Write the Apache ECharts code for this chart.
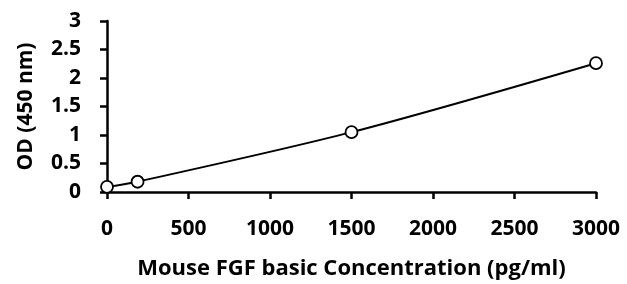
<!DOCTYPE html>
<html>
<head>
<meta charset="utf-8">
<script src="https://cdn.jsdelivr.net/npm/echarts@6/dist/echarts.min.js"></script>
<style>
	html, body { margin: 0; padding: 0; background: #fff; }
	#main { width: 627px; height: 284px; }
</style>
</head>
<body>
<div id="main"></div>
<script>
	// 数据
	var concentration = [0, 187.5, 1500, 3000];
	var od = [0.09, 0.18, 1.05, 2.26];
	var xTicks = [0, 500, 1000, 1500, 2000, 2500, 3000];
	var yTicks = [0, 0.5, 1, 1.5, 2, 2.5, 3];

	var points = concentration.map(function (c, i) { return [c, od[i]]; });

	var myChart = echarts.init(document.getElementById('main'));

	var font = '"Open Sans", sans-serif';

	var option = {
		backgroundColor: '#fff',
		animation: false,
		grid: {
			left: 107,
			right: 31,
			top: 21,
			bottom: 92,
			containLabel: false,
			outerBoundsMode: 'none'
		},
		xAxis: {
			type: 'value',
			min: xTicks[0],
			max: xTicks[xTicks.length - 1],
			interval: 500,
			name: 'Mouse FGF basic Concentration (pg/ml)',
			nameLocation: 'middle',
			nameGap: 66,
			nameTextStyle: { color: '#000', fontSize: 22, fontWeight: 'bold', fontFamily: font },
			axisLine: { lineStyle: { color: '#000', width: 2.5 } },
			axisTick: { show: true, inside: false, length: 7, lineStyle: { color: '#000', width: 2.5 } },
			axisLabel: {
				color: '#000', fontSize: 21, fontWeight: 'bold', fontFamily: font, margin: 27,
				formatter: function (v) { return String(v); }
			},
			splitLine: { show: false }
		},
		yAxis: {
			type: 'value',
			min: yTicks[0],
			max: yTicks[yTicks.length - 1],
			interval: 0.5,
			name: 'OD (450 nm)',
			nameLocation: 'middle',
			nameGap: 70,
			nameTextStyle: { color: '#000', fontSize: 21, fontWeight: 'bold', fontFamily: font },
			axisLine: { show: true, lineStyle: { color: '#000', width: 2.5 } },
			axisTick: { show: true, inside: false, length: 7, lineStyle: { color: '#000', width: 2.5 } },
			axisLabel: {
				color: '#000', fontSize: 21, fontWeight: 'bold', fontFamily: font, margin: 26,
				formatter: function (v) { return String(v); }
			},
			splitLine: { show: false }
		},
		series: [{
			type: 'line',
			data: points,
			smooth: 0.3,
			symbol: 'circle',
			symbolSize: 12,
			showSymbol: true,
			lineStyle: { color: '#000', width: 2 },
			itemStyle: { color: '#fff', borderColor: '#000', borderWidth: 1.8 },
			z: 3
		}]
	};

	myChart.setOption(option);
</script>
</body>
</html>
